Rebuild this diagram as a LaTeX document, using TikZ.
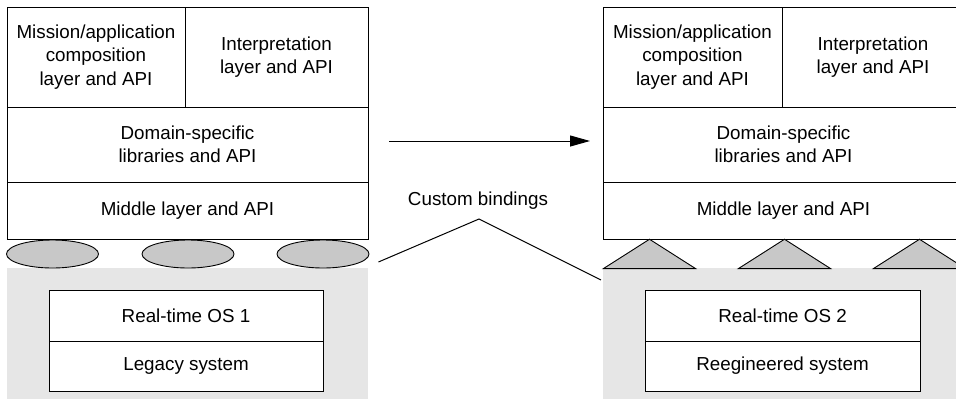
\documentclass[tikz,border=0pt]{standalone}
\usepackage{fontspec}
\setmainfont{Liberation Sans}
\usetikzlibrary{arrows.meta,shapes.geometric}
\definecolor{platform}{RGB}{230,230,230}
\definecolor{binding}{RGB}{200,200,200}
\begin{document}
\begin{tikzpicture}[x=1pt,y=-1pt,
  every node/.style={font=\fontsize{18.8}{23.5}\selectfont},
  layer/.style={draw,line width=1pt,inner sep=0pt,align=center,fill=white},
  base/.style={fill=platform,draw=none,inner sep=0pt},
  bindoval/.style={ellipse,draw,line width=0.9pt,fill=binding,inner sep=0pt,
    minimum width=92pt,minimum height=28pt},
  bindtri/.style={isosceles triangle,isosceles triangle apex angle=115,shape border rotate=90,
    draw,line width=0.9pt,fill=binding,inner sep=0pt,minimum width=92pt,minimum height=29pt},
  wire/.style={line width=1pt}]
\useasboundingbox (0,0) rectangle (956,399);
\clip (0,0) rectangle (956,399);

% ---- legacy platform (left) ----
\node[base,minimum width=361pt,minimum height=131pt] (platL) at (187.5,333.5) {};
\node[layer,minimum width=274pt,minimum height=51pt] (osL) at (186,315.5) {Real-time OS 1};
\node[layer,minimum width=274pt,minimum height=50pt] (sysL) at (186,366) {Legacy system};

\node[layer,minimum width=178pt,minimum height=100pt] (misL) at (96,57)
  {Mission/application\\composition\\layer and API};
\node[layer,minimum width=183pt,minimum height=100pt] (intL) at (276.5,57)
  {Interpretation\\layer and API};
\node[layer,minimum width=361pt,minimum height=75pt] (domL) at (187.5,144.5)
  {Domain-specific\\libraries and API};
\node[layer,minimum width=361pt,minimum height=57pt] (midL) at (187.5,210.5)
  {Middle layer and API};

\node[bindoval] (e1) at (52.5,254) {};
\node[bindoval] (e2) at (188,254) {};
\node[bindoval] (e3) at (323,254) {};

% ---- reengineered platform (right) ----
\node[base,minimum width=361pt,minimum height=131pt] (platR) at (783.5,333.5) {};
\node[layer,minimum width=275pt,minimum height=51pt] (osR) at (782.5,315.5) {Real-time OS 2};
\node[layer,minimum width=275pt,minimum height=50pt] (sysR) at (782.5,366) {Reegineered system};

\node[layer,minimum width=179pt,minimum height=100pt] (misR) at (692.5,57)
  {Mission/application\\composition\\layer and API};
\node[layer,minimum width=182pt,minimum height=100pt] (intR) at (873,57)
  {Interpretation\\layer and API};
\node[layer,minimum width=361pt,minimum height=75pt] (domR) at (783.5,144.5)
  {Domain-specific\\libraries and API};
\node[layer,minimum width=361pt,minimum height=57pt] (midR) at (783.5,210.5)
  {Middle layer and API};

\node[bindtri,anchor=south] (t1) at (649.5,269) {};
\node[bindtri,anchor=south] (t2) at (784.5,269) {};
\node[bindtri,anchor=south] (t3) at (919.5,269) {};

% ---- migration arrow and binding callout ----
\coordinate (arrfrom) at (389,141);
\coordinate (arrto) at (590,141);
\draw[wire,-{Triangle[length=20pt,width=11pt]}] (arrfrom) -- (arrto);
\node (cb) at (478,201) {Custom bindings};
\coordinate (cbtip) at (479,219);
\coordinate (cbL) at ([xshift=9pt,yshift=-8pt]e3.east);
\coordinate (cbR) at ([xshift=-1pt,yshift=-11pt]t1.left corner);
\draw[wire] (cbL) -- (cbtip) -- (cbR);
\end{tikzpicture}
\end{document}
